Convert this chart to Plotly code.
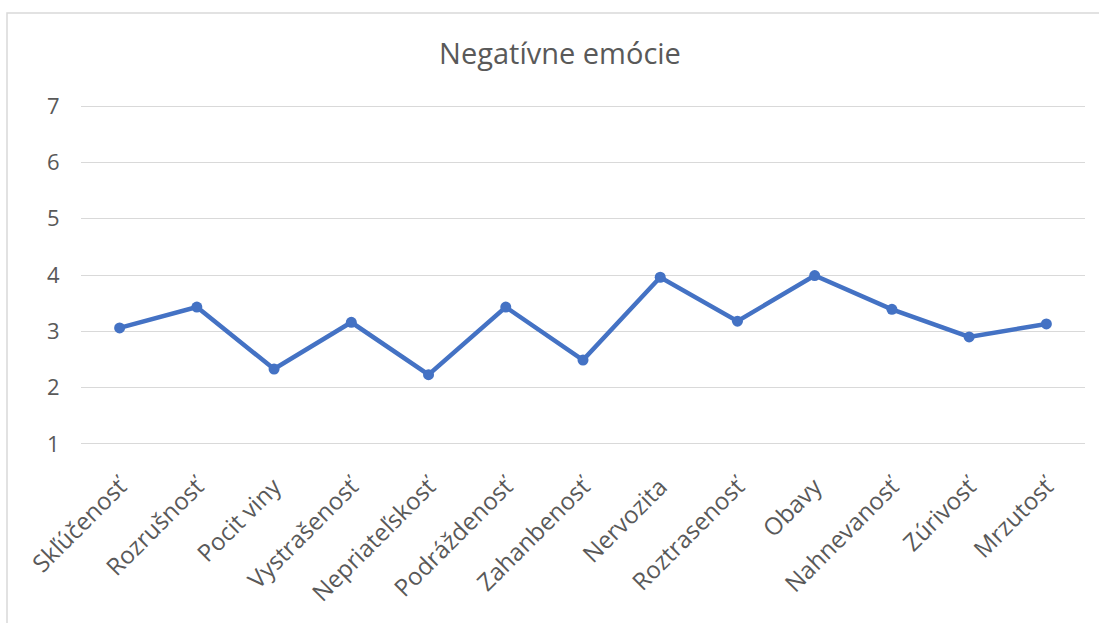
import plotly.graph_objects as go

categories = ["Skľúčenosť", "Rozrušnosť", "Pocit viny", "Vystrašenosť", "Nepriateľskosť",
              "Podráždenosť", "Zahanbenosť", "Nervozita", "Roztrasenosť", "Obavy",
              "Nahnevanosť", "Zúrivosť", "Mrzutosť"]
values = [3.06, 3.43, 2.33, 3.16, 2.23, 3.43, 2.49, 3.96, 3.18, 3.99, 3.39, 2.90, 3.13]
y_ticks = [1, 2, 3, 4, 5, 6, 7]

W, H = 1099, 623
ml, mr, mt, mb = 81, 14, 105, 178
pw, ph = W - ml - mr, H - mt - mb
pad = 0.02

fig = go.Figure()
fig.add_trace(go.Scatter(
    x=categories, y=values, mode="lines+markers",
    line=dict(color="#4472C4", width=4.5),
    marker=dict(color="#4472C4", size=11),
    hoverinfo="x+y", showlegend=False,
))

font_fam = "Open Sans, sans-serif"
fig.update_layout(
    width=W, height=H,
    margin=dict(l=ml, r=mr, t=mt, b=mb),
    paper_bgcolor="white", plot_bgcolor="white",
    title=dict(text="Negatívne emócie", x=560 / W, xref="container", xanchor="center",
               y=1 - 54 / H, yref="container", yanchor="middle",
               font=dict(family=font_fam, size=29, color="#595959")),
    xaxis=dict(range=[-0.5, len(categories) - 0.5], tickangle=-45,
               tickfont=dict(family=font_fam, size=24, color="#595959"),
               showgrid=False, zeroline=False, showline=False, ticks="",
               ticklabelstandoff=22),
    yaxis=dict(range=[1 - pad, 7 + pad], tickvals=y_ticks, ticktext=[str(v) for v in y_ticks],
               tickfont=dict(family=font_fam, size=22, color="#595959"),
               showgrid=True, gridcolor="#D9D9D9", gridwidth=1.3, zeroline=False,
               showline=False, ticks="outside", ticklen=16, tickcolor="rgba(0,0,0,0)"),
    shapes=[dict(type="rect", xref="paper", yref="paper",
                 x0=(7 - ml) / pw, x1=(W + 20 - ml) / pw,
                 y0=-(H + 20 - mt - ph) / ph, y1=(mt + ph - 13) / ph,
                 line=dict(color="#D9D9D9", width=1.5), layer="below")],
)

fig.write_html("out.html")
